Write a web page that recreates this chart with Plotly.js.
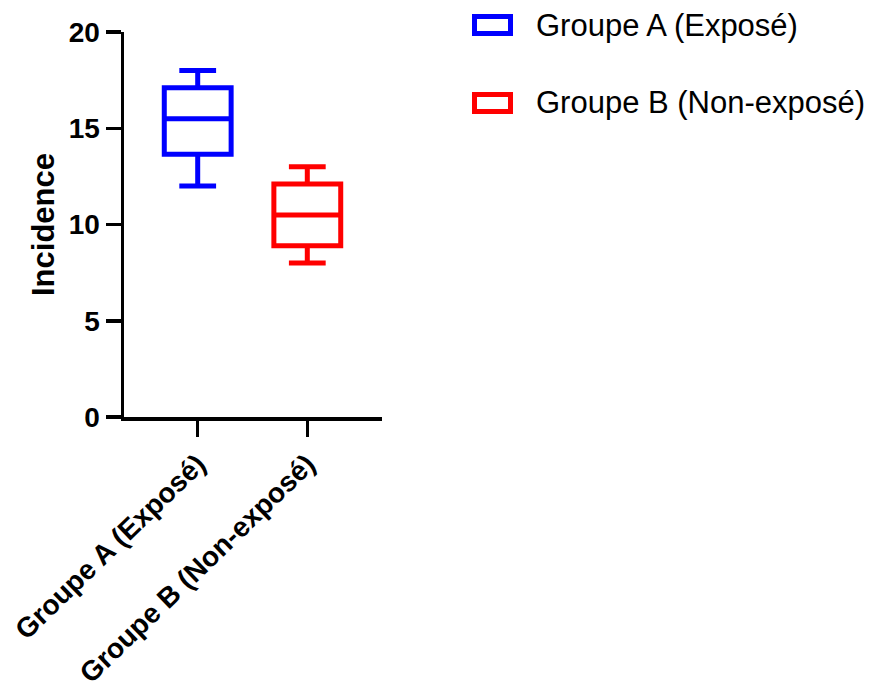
<!DOCTYPE html>
<html>
<head>
<meta charset="utf-8">
<script src="https://cdn.plot.ly/plotly-3.0.1.min.js"></script>
<style>html,body{margin:0;padding:0;background:#fff;}#chart{width:872px;height:685px;}</style>
</head>
<body>
<div id="chart"></div>
<script>
// Data
const categories = ["Groupe A (Exposé)", "Groupe B (Non-exposé)"];
const colors = ["#0000FF", "#FF0000"];
const lowerFence = [12, 8];
const q1Values = [13.65, 8.9];
const medianValues = [15.5, 10.5];
const q3Values = [17.1, 12.1];
const upperFence = [18, 13];
const yTicks = [0, 5, 10, 15, 20];

const FONT = "Liberation Sans, Arial, sans-serif";

const traces = categories.map((c, i) => ({
  type: "box",
  name: c,
  x: [c],
  q1: [q1Values[i]],
  median: [medianValues[i]],
  q3: [q3Values[i]],
  lowerfence: [lowerFence[i]],
  upperfence: [upperFence[i]],
  width: 0.61,
  whiskerwidth: 0.55,
  line: { color: colors[i], width: 5 },
  fillcolor: "rgba(255,255,255,0)",
  boxpoints: false,
  showlegend: false,
  hoverinfo: "skip"
}));

// Custom legend (plot area: x 124..382 px, y 32..417 px)
const L = 124, R = 382, T = 32, B = 417;
const px = v => (v - L) / (R - L);
const py = v => (B - v) / (B - T);
const legendY = [25, 103];
const shapes = [];
const annotations = [];
categories.forEach((c, i) => {
  shapes.push({
    type: "rect", xref: "paper", yref: "paper",
    x0: px(474.5), x1: px(510.5), y0: py(legendY[i] - 8.5), y1: py(legendY[i] + 8.5),
    line: { color: colors[i], width: 5 }, fillcolor: "rgba(255,255,255,0)"
  });
  annotations.push({
    xref: "paper", yref: "paper", x: px(534), y: py(legendY[i]),
    xanchor: "left", yanchor: "middle", showarrow: false, text: c,
    font: { family: FONT, size: 31, color: "#000" }
  });
});

const layout = {
  width: 872, height: 685,
  margin: { l: L, r: 872 - R, t: T, b: 685 - B, pad: 0 },
  paper_bgcolor: "#fff", plot_bgcolor: "#fff",
  boxmode: "overlay",
  showlegend: false,
  font: { family: FONT, color: "#000" },
  xaxis: {
    type: "category",
    range: [-0.6725, 1.6816],
    showline: true, linecolor: "#000", linewidth: 3.5,
    ticks: "outside", ticklen: 16, tickwidth: 3.5, tickcolor: "#000",
    tickangle: -44,
    tickfont: { family: FONT, size: 28, weight: "bold", color: "#000" },
    showgrid: false, zeroline: false, fixedrange: true
  },
  yaxis: {
    range: [0, 20],
    tickvals: yTicks,
    ticktext: yTicks.map(String),
    showline: true, linecolor: "#000", linewidth: 3.5,
    ticks: "outside", ticklen: 15, tickwidth: 3.5, tickcolor: "#000",
    tickfont: { family: FONT, size: 28, weight: "bold", color: "#000" },
    title: { text: "Incidence", standoff: 6,
      font: { family: FONT, size: 31, weight: "bold", color: "#000" } },
    showgrid: false, zeroline: false, fixedrange: true
  },
  shapes: shapes,
  annotations: annotations
};

Plotly.newPlot("chart", traces, layout, { displayModeBar: false, staticPlot: true });
</script>
</body>
</html>
